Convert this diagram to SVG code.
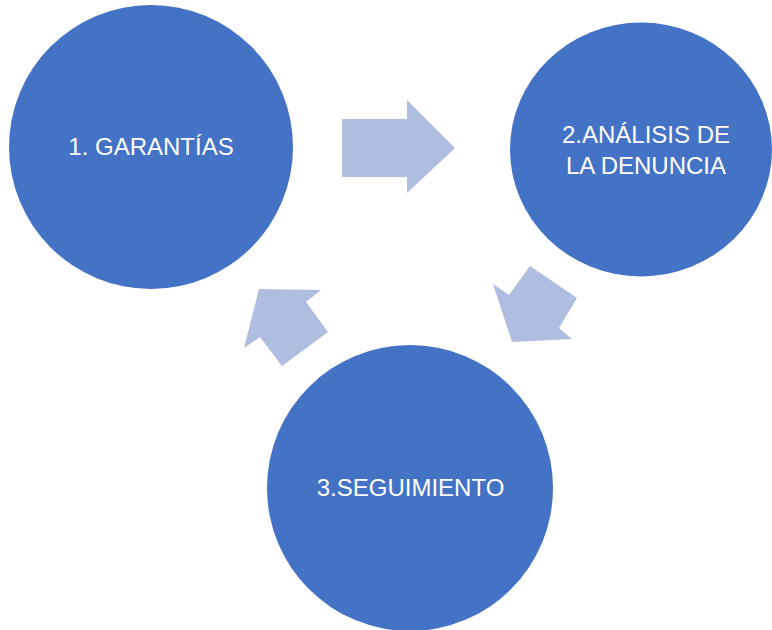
<svg xmlns="http://www.w3.org/2000/svg" width="772" height="630" viewBox="0 0 772 630">
<style>
.node{fill:#4472C4}
.lbl{fill:#FFFFFF;font-family:"Liberation Sans",Arial,sans-serif;font-size:24px;text-anchor:middle}
.arr{fill:#AFBDE0}
</style>
<rect width="772" height="630" fill="#FFFFFF"/>
<g id="connectors">
<polygon class="arr" points="342,119 407,119 407,100 455,148 407,193 407,177 342,177"/>
<polygon class="arr" points="530,266 577,298 559,328 572,339 512,342 493,284 509,295"/>
<polygon class="arr" points="259,289 321,290 306,302 328,332 282,366 260,337 244,348"/>
</g>
<g id="node1">
<circle class="node" cx="151" cy="147" r="142"/>
<text class="lbl" x="151" y="155">1. GARANTÍAS</text>
</g>
<g id="node2">
<ellipse class="node" cx="641" cy="149.5" rx="131" ry="127"/>
<text class="lbl" x="646" y="143">2.ANÁLISIS DE</text>
<text class="lbl" x="646" y="174">LA DENUNCIA</text>
</g>
<g id="node3">
<circle class="node" cx="410" cy="488" r="143"/>
<text class="lbl" x="410.5" y="496">3.SEGUIMIENTO</text>
</g>
</svg>
